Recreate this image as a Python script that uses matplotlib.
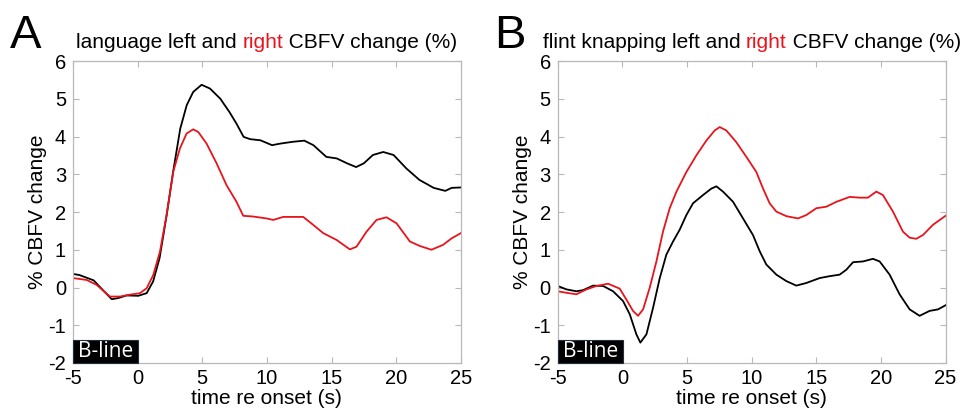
import matplotlib
matplotlib.use("Agg")
import matplotlib.pyplot as plt
from matplotlib.patches import Rectangle

plt.rcParams['font.family'] = ['Liberation Sans', 'DejaVu Sans']
plt.rcParams['axes.unicode_minus'] = False

# Panel A: language
t_a_left = [-5, -4.5, -3.4, -2.6, -2.0, -1.5, -0.85, 0.05, 0.7, 1.2, 1.7, 2.25, 2.75, 3.3, 3.8,
            4.3, 4.95, 5.6, 6.4, 7.1, 7.65, 8.2, 8.7, 9.5, 10.4, 11.0, 12.0, 12.9, 13.6, 14.6,
            15.4, 16.2, 16.9, 17.5, 18.2, 19.0, 19.8, 20.8, 21.8, 22.9, 23.8, 24.3, 25]
v_a_left = [0.36, 0.33, 0.19, -0.10, -0.31, -0.28, -0.21, -0.22, -0.15, 0.16, 0.78, 1.92, 3.07,
            4.21, 4.83, 5.18, 5.37, 5.27, 5.00, 4.65, 4.34, 3.99, 3.93, 3.90, 3.77, 3.81, 3.86,
            3.89, 3.77, 3.46, 3.42, 3.29, 3.19, 3.29, 3.51, 3.59, 3.51, 3.15, 2.85, 2.64, 2.56,
            2.64, 2.65]
t_a_right = [-5, -3.94, -3.17, -2.14, -1.37, -0.59, 0.18, 0.7, 1.21, 1.73, 2.24, 2.76, 3.27, 3.79,
             4.3, 4.69, 5.34, 6.11, 6.88, 7.65, 8.17, 8.94, 9.97, 10.49, 11.26, 12.81, 13.58,
             14.36, 15.39, 16.42, 16.93, 17.71, 18.48, 19.25, 20.03, 21.06, 21.83, 22.73, 23.63,
             24.28, 25]
v_a_right = [0.25, 0.20, 0.07, -0.24, -0.24, -0.19, -0.15, -0.02, 0.33, 0.95, 1.92, 3.07, 3.68,
             4.08, 4.19, 4.12, 3.81, 3.29, 2.71, 2.27, 1.90, 1.88, 1.83, 1.79, 1.87, 1.87, 1.66,
             1.44, 1.26, 1.01, 1.08, 1.48, 1.79, 1.86, 1.70, 1.22, 1.10, 1.00, 1.13, 1.30, 1.44]

# Panel B: flint knapping
t_b_left = [-5, -4.33, -3.56, -3.04, -2.27, -1.49, -0.72, 0.05, 0.57, 1.08, 1.39, 1.86, 2.37, 2.89,
            3.4, 3.92, 4.43, 4.95, 5.46, 6.24, 6.88, 7.27, 7.78, 8.56, 9.33, 10.1, 10.62, 11.13,
            11.91, 12.68, 13.45, 14.23, 15.26, 16.03, 16.8, 17.32, 17.84, 18.61, 19.38, 19.9,
            20.67, 21.44, 22.22, 22.99, 23.76, 24.41, 25]
v_b_left = [0.04, -0.05, -0.10, -0.07, 0.05, 0.04, -0.10, -0.36, -0.71, -1.24, -1.46, -1.24,
            -0.54, 0.25, 0.87, 1.22, 1.53, 1.92, 2.23, 2.45, 2.62, 2.68, 2.54, 2.27, 1.83, 1.39,
            0.96, 0.61, 0.34, 0.17, 0.05, 0.12, 0.25, 0.30, 0.34, 0.47, 0.67, 0.69, 0.76, 0.69,
            0.34, -0.18, -0.58, -0.75, -0.62, -0.58, -0.47]
t_b_right = [-5, -4.33, -3.56, -2.78, -2.01, -1.11, -0.21, 0.31, 0.82, 1.21, 1.6, 2.11, 2.63, 3.14,
             3.66, 4.18, 4.95, 5.72, 6.49, 7.14, 7.53, 8.04, 8.81, 9.59, 10.36, 10.88, 11.39,
             11.91, 12.68, 13.58, 14.23, 15.0, 15.77, 16.55, 17.58, 18.35, 18.99, 19.64, 20.15,
             20.93, 21.7, 22.22, 22.73, 23.25, 24.02, 25]
v_b_right = [-0.10, -0.14, -0.18, -0.05, 0.04, 0.10, -0.03, -0.32, -0.62, -0.75, -0.58, -0.01,
             0.69, 1.48, 2.10, 2.54, 3.06, 3.50, 3.89, 4.16, 4.25, 4.16, 3.85, 3.46, 3.06, 2.62,
             2.23, 2.01, 1.89, 1.83, 1.92, 2.10, 2.14, 2.27, 2.40, 2.38, 2.38, 2.54, 2.45, 2.01,
             1.48, 1.32, 1.29, 1.39, 1.66, 1.90]

xticks = [-5, 0, 5, 10, 15, 20, 25]
yticks = [-2, -1, 0, 1, 2, 3, 4, 5, 6]
title_a = ["language left and ", "right", " CBFV change (%)"]
title_b = ["flint knapping left and ", "right", " CBFV change (%)"]
title_colors = ["black", "#e8141c", "black"]

fig = plt.figure(figsize=(9.6, 4.17), dpi=100)
axA = fig.add_axes([0.076, 0.1295, 0.404, 0.7242])
axB = fig.add_axes([0.581, 0.1295, 0.404, 0.7242])

spine_col = "#b8b8b8"
for ax, tl, vl, tr, vr in [(axA, t_a_left, v_a_left, t_a_right, v_a_right),
                           (axB, t_b_left, v_b_left, t_b_right, v_b_right)]:
    ax.plot(tl, vl, color="black", lw=1.3)
    ax.plot(tr, vr, color="#e8141c", lw=1.3)
    ax.set_xlim(-5, 25)
    ax.set_ylim(-2, 6)
    ax.set_xticks(xticks)
    ax.set_yticks(yticks)
    ax.tick_params(direction="in", length=4, color=spine_col, labelsize=14.5,
                   top=True, right=True)
    ax.tick_params(axis="y", pad=5)
    ax.tick_params(axis="x", pad=4)
    for s in ax.spines.values():
        s.set_color(spine_col)
        s.set_linewidth(0.9)
    ax.set_xlabel("time re onset (s)", fontsize=15, labelpad=1)
    ax.set_ylabel("% CBFV change", fontsize=15, labelpad=1)
    ax.add_patch(Rectangle((-5, -2), 5.05, 0.62, facecolor="black", edgecolor="#203040",
                           lw=0.8, zorder=5, clip_on=False))
    ax.text(-2.45, -1.69, "B-line", color="white", fontsize=15, ha="center", va="center",
            family=["Open Sans", "DejaVu Sans"], zorder=6)

fig.text(0.010, 0.885, "A", fontsize=34, va="baseline")
fig.text(0.515, 0.885, "B", fontsize=34, va="baseline")

fig.canvas.draw()
renderer = fig.canvas.get_renderer()


def colored_title(ax, parts, colors, y):
    texts = []
    widths = []
    for p, c in zip(parts, colors):
        t = fig.text(0, y, p, color=c, fontsize=15, va="baseline")
        widths.append(t.get_window_extent(renderer).width)
        texts.append(t)
    total = sum(widths)
    bb = ax.get_position()
    center_px = (bb.x0 + bb.x1) / 2 * fig.bbox.width
    x = center_px - total / 2
    for t, w in zip(texts, widths):
        t.set_x(x / fig.bbox.width)
        x += w


colored_title(axA, title_a, title_colors, 0.885)
colored_title(axB, title_b, title_colors, 0.885)

fig.savefig("out.png", dpi=100)
